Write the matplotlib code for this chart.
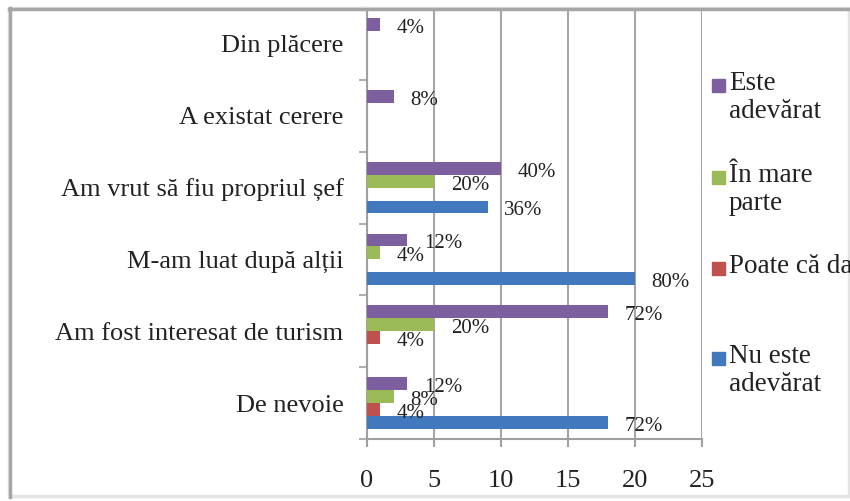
import numpy as np
import matplotlib
matplotlib.use('Agg')
import matplotlib.pyplot as plt
from matplotlib.patches import Rectangle
from matplotlib.lines import Line2D
from matplotlib.ticker import FixedLocator, NullFormatter

plt.rcParams['font.family'] = ['Liberation Serif', 'DejaVu Serif']

# date: numar de respondenti (din 25)
categorii = ['De nevoie', 'Am fost interesat de turism', 'M-am luat după alții',
             'Am vrut să fiu propriul șef', 'A existat cerere', 'Din plăcere']
total = 25
nu_este = [18, np.nan, 20, 9, np.nan, np.nan]
poate = [1, 1, np.nan, np.nan, np.nan, np.nan]
in_mare = [2, 5, 1, 5, np.nan, np.nan]
este = [3, 18, 3, 10, 2, 1]

serii = ['Nu este\nadevărat', 'Poate că da', 'În mare\nparte', 'Este\nadevărat']
culori = ['#4178BE', '#C0504D', '#9BBB59', '#7D5FA0']
valori = [nu_este, poate, in_mare, este]
x_ticks = [0, 5, 10, 15, 20, 25]

W, H = 850, 501
fig = plt.figure(figsize=(W / 100, H / 100), dpi=100)

# chenarul graficului
fig.patches.append(Rectangle((9 / W, 1 - 496 / H), 840 / W, 488 / H, transform=fig.transFigure,
                             fill=False, edgecolor='#e4e4e4', linewidth=2.5))
fig.lines.append(Line2D([10 / W, 10 / W], [1 - 497 / H, 1 - 8 / H], transform=fig.transFigure,
                        color='#a6a6a6', linewidth=2.5))
fig.lines.append(Line2D([9 / W, 1.0], [1 - 8.5 / H, 1 - 8.5 / H], transform=fig.transFigure,
                        color='#a6a6a6', linewidth=2.5))

ax = fig.add_axes([367 / W, 1 - 439 / H, (702 - 367) / W, (439 - 8) / H])

y = np.arange(len(categorii))
h = 0.18
offs = [-0.27, -0.09, 0.09, 0.27]
for vals, c, o in zip(valori, culori, offs):
    vals = np.array(vals, dtype=float)
    ok = ~np.isnan(vals)
    ax.barh(y[ok] + o, vals[ok], height=h, color=c, edgecolor='none', zorder=3)
    for yy, v in zip(y[ok] + o, vals[ok]):
        ax.annotate('{:.0f}%'.format(v / total * 100), (v, yy), xytext=(12, -1),
                    textcoords='offset points', va='center_baseline', ha='left',
                    fontsize=15, color='#222222', zorder=4)

ax.set_xlim(0, 25)
ax.set_ylim(-0.5, len(categorii) - 0.5)
ax.set_xticks(x_ticks)
ax.set_xticklabels([str(t) for t in x_ticks])
ax.set_yticks(y)
ax.set_yticklabels(categorii)
ax.yaxis.set_minor_locator(FixedLocator(np.arange(-0.5, len(categorii), 1.0)))
ax.yaxis.set_minor_formatter(NullFormatter())
ax.tick_params(axis='y', which='major', length=0, pad=17, labelsize=19, labelcolor='#222222')
ax.tick_params(axis='y', which='minor', length=6, width=1.5, color='#b0b0b0', direction='out')
ax.tick_params(axis='x', length=6, width=1.5, color='#a0a0a0', pad=16, labelsize=19,
               labelcolor='#222222')
ax.grid(axis='x', color='#a6a6a6', linewidth=1.5, zorder=0)
ax.set_axisbelow(True)
for s in ['top', 'right']:
    ax.spines[s].set_visible(False)
for s in ['left', 'bottom']:
    ax.spines[s].set_color('#a0a0a0')
    ax.spines[s].set_linewidth(1.5)

# legenda
leg_y = [85, 177, 268, 358]
for nume, c, yy in zip(serii[::-1], culori[::-1], leg_y):
    fig.patches.append(Rectangle((712 / W, 1 - (yy + 7) / H), 13 / W, 13 / H,
                                 transform=fig.transFigure, color=c))
    fig.text(729 / W, 1 - (yy - 14) / H, nume, ha='left', va='top', fontsize=19.5,
             color='#222222', linespacing=1.15)

fig.savefig('out.png', dpi=100)
